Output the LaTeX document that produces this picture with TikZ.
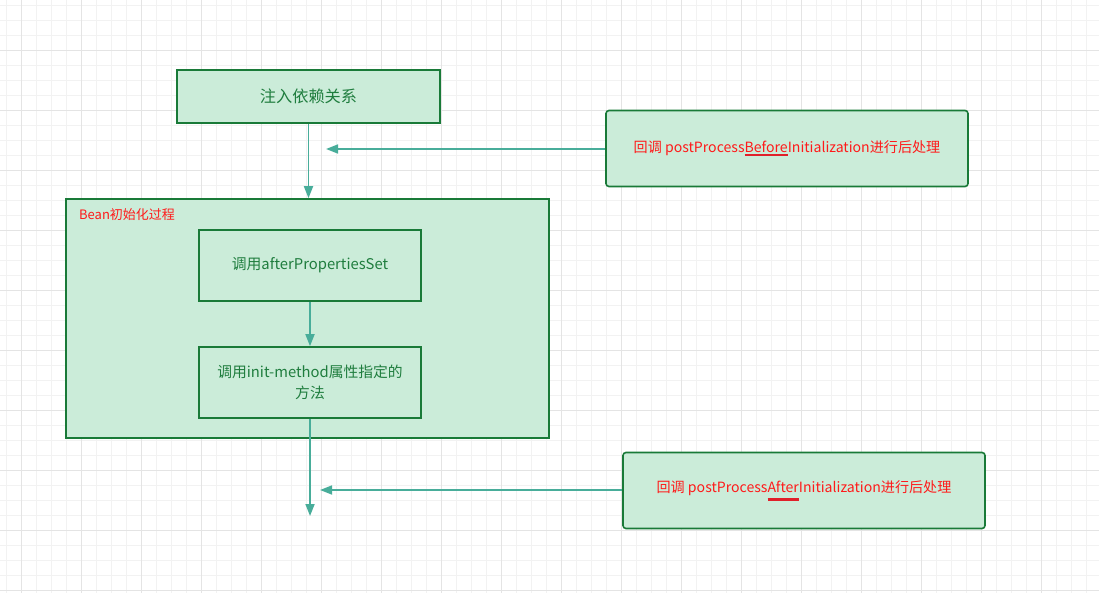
\documentclass[tikz,border=0pt]{standalone}
\usepackage{fontspec}
\setmainfont{Noto Sans CJK SC}
\usetikzlibrary{arrows.meta}
\definecolor{boxfill}{HTML}{CBECD9}
\definecolor{boxdraw}{HTML}{197A38}
\definecolor{boxtext}{HTML}{1F7D3E}
\definecolor{redtext}{HTML}{FF1A1A}
\definecolor{ulred}{HTML}{E0202A}
\definecolor{teal}{HTML}{48AD9A}
\definecolor{gridminor}{HTML}{F2F2F2}
\definecolor{gridmajor}{HTML}{E4E4E4}
\newsavebox\ulbox
\newcommand\redul[2]{\sbox\ulbox{#2}\rlap{\textcolor{ulred}{\rule[#1]{\wd\ulbox}{2.2pt}}}\usebox\ulbox}
\tikzset{
  box/.style={draw=boxdraw, fill=boxfill, line width=1.6pt, inner sep=2pt, text=boxtext, align=center, font=\fontsize{14.8}{21}\selectfont},
  cbbox/.style={box, rounded corners=3pt, text=redtext, font=\fontsize{14.1}{19}\selectfont},
  arr/.style={draw=teal, line width=1.7pt, -{Triangle[length=12pt,width=9pt]}},
}
\begin{document}
\begin{tikzpicture}[x=1pt,y=-1pt]
\useasboundingbox (0,0) rectangle (1099,593);
\fill[white] (0,0) rectangle (1099,593);
% grid
\foreach \i in {0,...,73} {
  \pgfmathsetmacro\gx{6.7+15*\i}
  \draw[gridminor, line width=0.8pt] (\gx,0) -- (\gx,593);
}
\foreach \i in {0,...,39} {
  \pgfmathsetmacro\gy{5+15*\i}
  \draw[gridminor, line width=0.8pt] (0,\gy) -- (1099,\gy);
}
\foreach \i in {0,...,18} {
  \pgfmathsetmacro\gx{21.7+60*\i}
  \draw[gridmajor, line width=0.8pt] (\gx,0) -- (\gx,593);
}
\foreach \i in {0,...,9} {
  \pgfmathsetmacro\gy{50+60*\i}
  \draw[gridmajor, line width=0.8pt] (0,\gy) -- (1099,\gy);
}
% nodes
\node[box, minimum width=263pt, minimum height=53pt, font=\fontsize{16.2}{19}\selectfont] (b1) at (308.5,96.5) {注入依赖关系};
\node[cbbox, minimum width=362pt, minimum height=76pt] (b2) at (787,148.5) {回调 postProcess\redul{-3.5pt}{Before}Initialization进行后处理};
\node[box, minimum width=483pt, minimum height=239pt] (cont) at (307.5,318.5) {};
\node[anchor=west, text=redtext, font=\fontsize{13}{15}\selectfont, inner sep=0pt] (lbl) at (79,215) {Bean初始化过程};
\node[box, minimum width=222pt, minimum height=71pt] (b3) at (310,265.5) {调用afterPropertiesSet};
\node[box, minimum width=222pt, minimum height=71pt] (b4) at (310,382.5) {调用init-method属性指定的\\方法};
\node[cbbox, minimum width=362pt, minimum height=76pt] (b5) at (804,490.5) {回调 postProcess\redul{-8.5pt}{After}Initialization进行后处理};
% connectors
\coordinate (c1) at (326,149);
\coordinate (c2) at (310,516);
\coordinate (c3) at (320,490);
\draw[arr] (b1.south) -- (b1.south |- cont.north);
\draw[arr] (b2.west |- c1) -- (c1);
\draw[arr] (b3.south) -- (b4.north);
\draw[arr] (b4.south) -- (c2);
\draw[arr] (b5.west |- c3) -- (c3);
\end{tikzpicture}
\end{document}
